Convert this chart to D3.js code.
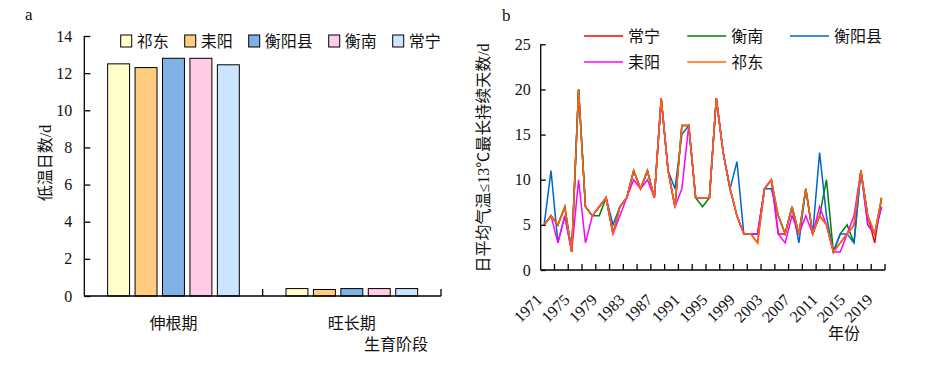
<!DOCTYPE html>
<html>
<head>
<meta charset="utf-8">
<script src="https://cdn.jsdelivr.net/npm/d3@7"></script>
<style>
    body { margin: 0; background: #fff; }
    svg { display: block; }
    text { font-family: "Liberation Serif", "Times New Roman", "Noto Sans CJK SC", serif; fill: #111; }
</style>
</head>
<body>
<svg id="chart" width="942" height="369"></svg>
<script>
// ---- data (panel a) ----
var stages = ["伸根期", "旺长期"];
var stations = ["祁东", "耒阳", "衡阳县", "衡南", "常宁"];
var qidongDays = [12.5, 0.4];
var leiyangDays = [12.3, 0.35];
var hengyangxianDays = [12.8, 0.4];
var hengnanDays = [12.8, 0.4];
var changningDays = [12.45, 0.4];
var barColors = ["#ffffcc", "#ffcc80", "#7fb2e5", "#ffcce6", "#cce5ff"];
var leftTicks = [0, 2, 4, 6, 8, 10, 12, 14];

// ---- data (panel b) ----
var years = [1971, 1972, 1973, 1974, 1975, 1976, 1977, 1978, 1979, 1980,
             1981, 1982, 1983, 1984, 1985, 1986, 1987, 1988, 1989, 1990,
             1991, 1992, 1993, 1994, 1995, 1996, 1997, 1998, 1999, 2000,
             2001, 2002, 2003, 2004, 2005, 2006, 2007, 2008, 2009, 2010,
             2011, 2012, 2013, 2014, 2015, 2016, 2017, 2018, 2019, 2020];
var yearLabels = [1971, 1975, 1979, 1983, 1987, 1991, 1995, 1999, 2003, 2007, 2011, 2015, 2019];
var changning = [5,6,5,7,2,20,7,6,7,8, 4,7,8,11,9,11,8,19,11,7, 16,16,8,8,8,19,13,9,6,4, 4,3,9,10,4,4,7,4,9,4, 6,5,2,3,4,5,11,6,3,8];
var hengnan   = [5,6,5,7,2,20,7,6,6,8, 4,7,8,11,9,11,8,19,11,7, 16,16,8,7,8,19,13,9,6,4, 4,4,9,10,6,4,7,4,9,4, 6,10,2,4,5,3,11,6,4,8];
var hengyang  = [5,11,3,6,2,20,7,6,7,8, 5,7,8,11,9,11,8,19,11,9, 15,16,8,8,8,19,13,9,12,4, 4,4,9,9,6,4,7,3,9,4, 13,6,2,4,4,3,11,5,4,7];
var leiyang   = [5,6,3,6,2,10,3,6,7,8, 4,6,8,10,9,10,8,19,11,7, 9,16,8,8,8,19,13,9,6,4, 4,4,9,10,4,3,6,4,6,4, 7,5,2,2,4,6,11,5,4,7];
var qidong    = [5,6,5,7,2,20,7,6,7,8, 4,7,8,11,9,11,8,19,11,7, 16,16,8,8,8,19,13,9,6,4, 4,3,9,10,6,4,7,4,9,4, 6,5,2,3,4,5,11,6,4,8];
var lineNames = ["常宁", "衡南", "衡阳县", "耒阳", "祁东"];
var lineColors = ["#ff0000", "#008000", "#0066cc", "#ff00ff", "#ff6600"];
var rightTicks = [0, 5, 10, 15, 20, 25];

var svg = d3.select("#chart");

// ================= panel a =================
var barData = [qidongDays, leiyangDays, hengyangxianDays, hengnanDays, changningDays];

var xa = d3.scaleBand().domain(stages).range([84.3, 441]);
var xa2 = d3.scaleBand().domain(stations).range([0, xa.bandwidth()]).paddingInner(0.2).paddingOuter(0.85);
var ya = d3.scaleLinear().domain([0, 14]).range([296, 36]);

var gA = svg.append("g");

stages.forEach(function(st, si) {
    stations.forEach(function(name, k) {
        gA.append("rect")
            .attr("x", xa(st) + xa2(name))
            .attr("y", ya(barData[k][si]))
            .attr("width", xa2.bandwidth())
            .attr("height", ya(0) - ya(barData[k][si]))
            .attr("fill", barColors[k])
            .attr("stroke", "#000")
            .attr("stroke-width", 1);
    });
});

var yAxisA = d3.axisLeft(ya).tickValues(leftTicks).tickSize(-6).tickPadding(12);
gA.append("g").attr("transform", "translate(84.3,0)").call(yAxisA)
    .call(function(g) {
        g.selectAll("text").style("font-size", "16px").attr("fill", "#111");
        g.selectAll("line, path").attr("stroke", "#000").attr("stroke-width", 1.3);
        g.select(".domain").attr("d", "M0,296V36H-0");
    });

// x axis line + ticks between categories
gA.append("line").attr("x1", 84.3).attr("x2", 441).attr("y1", 296).attr("y2", 296)
    .attr("stroke", "#000").attr("stroke-width", 1.3);
[xa(stages[1]), xa.range()[1]].forEach(function(x) {
    gA.append("line").attr("x1", x).attr("x2", x).attr("y1", 296).attr("y2", 289)
        .attr("stroke", "#000").attr("stroke-width", 1.3);
});

stages.forEach(function(st) {
    gA.append("text").attr("x", xa(st) + xa.bandwidth() / 2).attr("y", 329)
        .attr("text-anchor", "middle").style("font-size", "16px").text(st);
});
gA.append("text").attr("x", 396).attr("y", 350).attr("text-anchor", "middle")
    .style("font-size", "16px").text("生育阶段");

gA.append("text").attr("transform", "translate(51,163) rotate(-90)")
    .attr("text-anchor", "middle").style("font-size", "16px").text("低温日数/d");

gA.append("text").attr("x", 25).attr("y", 20).style("font-size", "17px").text("a");

// legend a
var lx = 120.7;
stations.forEach(function(name, k) {
    gA.append("rect").attr("x", lx).attr("y", 35).attr("width", 11).attr("height", 12)
        .attr("fill", barColors[k]).attr("stroke", "#000").attr("stroke-width", 1);
    gA.append("text").attr("x", lx + 16).attr("y", 47).style("font-size", "16px").text(name);
    lx += 16 + 16 * name.length + 16;
});

// ================= panel b =================
var series = [changning, hengnan, hengyang, leiyang, qidong];

var xb = d3.scaleBand().domain(years).range([540.7, 885]);
var yb = d3.scaleLinear().domain([0, 25]).range([270, 44.3]);
var gB = svg.append("g");

var line = d3.line()
    .x(function(d, i) { return xb(years[i]) + xb.bandwidth() / 2; })
    .y(function(d) { return yb(d); });

series.forEach(function(s, k) {
    gB.append("path").datum(s)
        .attr("d", line)
        .attr("fill", "none")
        .attr("stroke", lineColors[k])
        .attr("stroke-width", 1.5)
        .attr("stroke-linejoin", "miter");
});

var yAxisB = d3.axisLeft(yb).tickValues(rightTicks).tickSize(-5).tickPadding(10);
gB.append("g").attr("transform", "translate(540.7,0)").call(yAxisB)
    .call(function(g) {
        g.selectAll("text").style("font-size", "16px").attr("fill", "#111");
        g.selectAll("line, path").attr("stroke", "#000").attr("stroke-width", 1.3);
        g.select(".domain").attr("d", "M0,270V44.3H-0");
    });

gB.append("line").attr("x1", 540.7).attr("x2", 885).attr("y1", 270).attr("y2", 270)
    .attr("stroke", "#000").attr("stroke-width", 1.3);
years.forEach(function(yr, i) {
    if (i > 0 && i % 2 == 0) {
        gB.append("line").attr("x1", xb(yr)).attr("x2", xb(yr)).attr("y1", 270).attr("y2", 264)
            .attr("stroke", "#000").attr("stroke-width", 1.3);
    }
});
gB.append("line").attr("x1", 885).attr("x2", 885).attr("y1", 270).attr("y2", 264)
    .attr("stroke", "#000").attr("stroke-width", 1.3);

yearLabels.forEach(function(yr) {
    var cx = xb(yr) + xb.bandwidth() / 2 - 5;
    gB.append("text")
        .attr("transform", "translate(" + cx + ",297) rotate(-45)")
        .attr("text-anchor", "end").attr("dy", "0.35em")
        .style("font-size", "16px").text(yr);
});

gB.append("text").attr("x", 828).attr("y", 339).style("font-size", "16px").text("年份");

gB.append("text").attr("transform", "translate(489,158) rotate(-90)")
    .attr("text-anchor", "middle").style("font-size", "16px").text("日平均气温≤13℃最长持续天数/d");

gB.append("text").attr("x", 502).attr("y", 21).style("font-size", "17px").text("b");

// legend b (3 columns, 2 rows)
var legCols = [584, 687.3, 790];
var legRows = [36, 62];
lineNames.forEach(function(name, k) {
    var cx = legCols[k % 3], cy = legRows[Math.floor(k / 3)];
    gB.append("line").attr("x1", cx).attr("x2", cx + 39).attr("y1", cy).attr("y2", cy)
        .attr("stroke", lineColors[k]).attr("stroke-width", 1.5);
    gB.append("text").attr("x", cx + 44).attr("y", cy).attr("dy", "0.35em")
        .style("font-size", "16px").text(name);
});
</script>
</body>
</html>
